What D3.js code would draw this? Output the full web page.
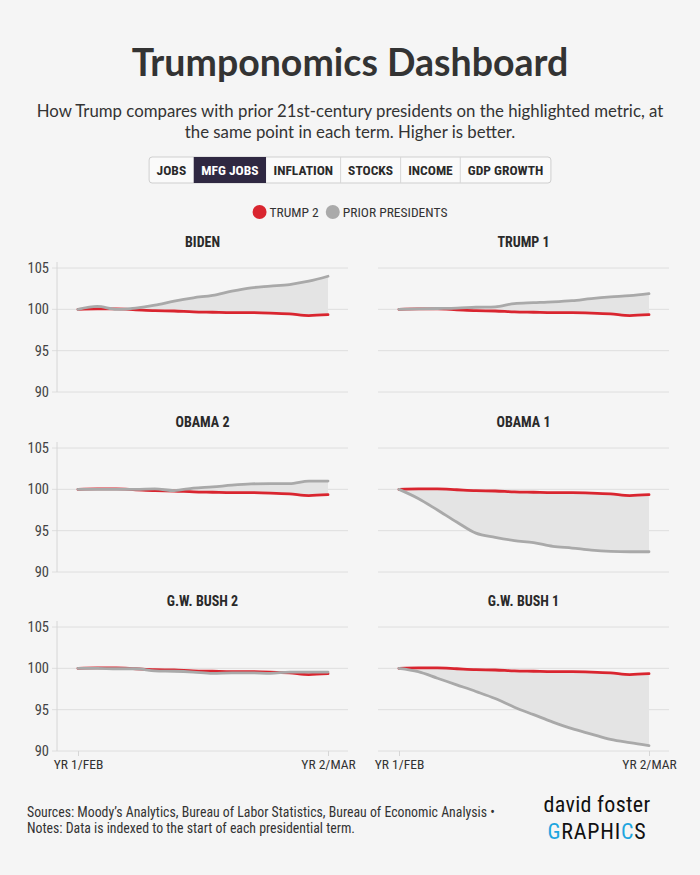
<!DOCTYPE html>
<html>
<head>
<meta charset="utf-8">
<script src="https://cdn.jsdelivr.net/npm/d3@7"></script>
<style>
  body { margin: 0; background: #f5f5f5; }
  svg { display: block; }
</style>
</head>
<body>
<div id="chart"></div>
<script>
// months from Feb of year 1 to Mar of year 2
const months = d3.range(14);
const xLabels = ["YR 1/FEB", "YR 2/MAR"];
const yTicks = [90, 95, 100, 105];
const tabs = ["JOBS", "MFG JOBS", "INFLATION", "STOCKS", "INCOME", "GDP GROWTH"];
const activeTab = "MFG JOBS";
const panelNames = ["BIDEN", "TRUMP 1", "OBAMA 2", "OBAMA 1", "G.W. BUSH 2", "G.W. BUSH 1"];

const trump2 = [100, 100.05, 100.05, 99.95, 99.85, 99.8, 99.7, 99.65, 99.6, 99.6, 99.55, 99.45, 99.25, 99.35];
const biden = [100, 100.35, 100.0, 100.15, 100.5, 101.0, 101.4, 101.7, 102.2, 102.6, 102.8, 103.0, 103.4, 104.0];
const trump1 = [100, 100.05, 100.1, 100.15, 100.25, 100.3, 100.7, 100.8, 100.9, 101.05, 101.3, 101.5, 101.65, 101.9];
const obama2 = [100, 100, 100, 100, 100.05, 99.85, 100.15, 100.3, 100.5, 100.65, 100.7, 100.7, 101.0, 101.0];
const obama1 = [100, 98.9, 97.5, 96.05, 94.7, 94.2, 93.8, 93.55, 93.1, 92.9, 92.65, 92.5, 92.45, 92.45];
const bush2 = [100, 100, 99.95, 99.95, 99.7, 99.65, 99.55, 99.4, 99.45, 99.45, 99.4, 99.55, 99.55, 99.55];
const bush1 = [100, 99.6, 98.8, 98.0, 97.2, 96.35, 95.3, 94.4, 93.5, 92.7, 92.05, 91.4, 91.0, 90.65];
const priorSeries = [biden, trump1, obama2, obama1, bush2, bush1];

const W = 700, H = 875;
const red = "#d9252f", grey = "#a9a9a9";
const cond = "\"Roboto Condensed\", \"Liberation Sans Narrow\", \"DejaVu Sans Condensed\", Roboto, sans-serif";

const svg = d3.select("#chart").append("svg")
    .attr("width", W)
    .attr("height", H);

svg.append("rect").attr("width", W).attr("height", H).attr("fill", "#f5f5f5");

// header
svg.append("text")
    .attr("x", W / 2).attr("y", 76)
    .attr("text-anchor", "middle")
    .attr("font-family", "Lato, 'Open Sans', sans-serif")
    .attr("font-weight", 700)
    .attr("font-size", 37.5)
    .attr("fill", "#333")
    .text("Trumponomics Dashboard");

const sub = ["How Trump compares with prior 21st-century presidents on the highlighted metric, at",
             "the same point in each term. Higher is better."];
svg.append("g").selectAll("text")
    .data(sub)
    .enter().append("text")
    .attr("x", W / 2)
    .attr("y", (d, i) => 117 + i * 21)
    .attr("text-anchor", "middle")
    .attr("font-family", "Lato, 'Open Sans', sans-serif")
    .attr("font-size", 16.8)
    .attr("fill", "#333")
    .text(d => d);

// tab buttons
const tabG = svg.append("g");
let tx = 0;
const tabPos = [];
tabs.forEach(t => {
  const tmp = tabG.append("text").attr("font-family", cond).attr("font-weight", 700).attr("font-size", 13.5).text(t);
  const w = tmp.node().getComputedTextLength() + 15;
  tmp.remove();
  tabPos.push({ t: t, x: tx, w: w });
  tx += w;
});
const tabStart = W / 2 - tx / 2;
tabG.attr("transform", "translate(" + tabStart + ",157)");
tabG.append("rect")
    .attr("x", 0).attr("y", 0).attr("width", tx).attr("height", 26)
    .attr("rx", 3).attr("fill", "#fafafa").attr("stroke", "#cfcfcf");
tabG.selectAll("g.tab")
    .data(tabPos)
    .enter().append("g")
    .attr("class", "tab")
    .each(function (d, i) {
      const g = d3.select(this);
      if (d.t === activeTab) {
        g.append("rect").attr("x", d.x).attr("y", 0).attr("width", d.w).attr("height", 26).attr("fill", "#2f2842");
      } else if (i > 0 && tabPos[i - 1].t !== activeTab) {
        g.append("line").attr("x1", d.x).attr("x2", d.x).attr("y1", 0).attr("y2", 26).attr("stroke", "#d6d6d6");
      }
      g.append("text")
        .attr("x", d.x + d.w / 2).attr("y", 18)
        .attr("text-anchor", "middle")
        .attr("font-family", cond).attr("font-weight", 700).attr("font-size", 13.5)
        .attr("fill", d.t === activeTab ? "#fff" : "#2a2a2a")
        .text(d.t);
    });

// legend
const legend = [{ name: "TRUMP 2", c: red }, { name: "PRIOR PRESIDENTS", c: "#aaa" }];
const lg = svg.append("g");
let lx = 0;
legend.forEach(l => {
  const g = lg.append("g").attr("transform", "translate(" + lx + ",0)");
  g.append("circle").attr("cx", 7).attr("cy", 0).attr("r", 7).attr("fill", l.c);
  const t = g.append("text").attr("x", 17).attr("y", 4.5)
      .attr("font-family", cond).attr("font-size", 13.5).attr("fill", "#333").text(l.name);
  lx += 17 + t.node().getComputedTextLength() + 7;
});
lg.attr("transform", "translate(" + (W / 2 - (lx - 7) / 2) + ",212)");

// panels
const colX = [57, 378];
const rowTop = [268, 448, 627];
const plotW = 291, plotH = 124;

const x = d3.scaleLinear().domain([0, 13]).range([21, plotW - 20]);
const y = d3.scaleLinear().domain([90, 105]).range([plotH, 0]);

panelNames.forEach((name, i) => {
  const col = i % 2, row = Math.floor(i / 2);
  const prior = priorSeries[i];
  const g = svg.append("g").attr("transform", "translate(" + colX[col] + "," + rowTop[row] + ")");

  g.append("text")
    .attr("x", plotW / 2).attr("y", -21)
    .attr("text-anchor", "middle")
    .attr("font-family", cond).attr("font-weight", 700).attr("font-size", 14)
    .attr("fill", "#2a2a2a")
    .text(name);

  // grid
  g.append("g").selectAll("line")
    .data(yTicks)
    .enter().append("line")
    .attr("x1", col === 0 ? -5 : 0).attr("x2", plotW)
    .attr("y1", d => y(d)).attr("y2", d => y(d))
    .attr("stroke", "#dedede").attr("stroke-width", 1);

  if (col === 0) {
    const yAxis = d3.axisLeft(y).tickValues(yTicks).tickSize(0).tickPadding(8);
    const ya = g.append("g").call(yAxis);
    ya.select(".domain").remove();
    ya.selectAll("text").attr("font-family", cond).attr("font-size", 14.5).attr("fill", "#444");
    g.append("line").attr("x1", 0).attr("x2", 0).attr("y1", -6).attr("y2", plotH)
      .attr("stroke", "#d6d6d6");
  }

  if (row === 2) {
    const xAxis = d3.axisBottom(x).tickValues([0, 13]).tickSize(5).tickPadding(3)
        .tickFormat((d, k) => xLabels[k]);
    const xa = g.append("g").attr("transform", "translate(0," + plotH + ")").call(xAxis);
    xa.select(".domain").remove();
    xa.selectAll("line").attr("stroke", "#d6d6d6");
    xa.selectAll("text").attr("font-family", cond).attr("font-size", 13.5).attr("fill", "#333");
  }

  const area = d3.area()
      .x(d => x(d))
      .y0(d => y(trump2[d]))
      .y1(d => y(prior[d]))
      .curve(d3.curveMonotoneX);
  g.append("path").datum(months).attr("d", area).attr("fill", "#e4e4e4");

  const line = d3.line().x(d => x(d)).curve(d3.curveMonotoneX);
  g.append("path").datum(months)
    .attr("d", line.y(d => y(trump2[d])))
    .attr("fill", "none").attr("stroke", red).attr("stroke-width", 2.8).attr("stroke-linecap", "round");
  g.append("path").datum(months)
    .attr("d", line.y(d => y(prior[d])))
    .attr("fill", "none").attr("stroke", grey).attr("stroke-width", 2.8).attr("stroke-linecap", "round");
});

// footer
const notes = ["Sources: Moody\u2019s Analytics, Bureau of Labor Statistics, Bureau of Economic Analysis \u2022",
               "Notes: Data is indexed to the start of each presidential term."];
svg.append("g").selectAll("text")
    .data(notes)
    .enter().append("text")
    .attr("x", 27).attr("y", (d, i) => 817 + i * 16)
    .attr("font-family", cond).attr("font-size", 13.8).attr("fill", "#333")
    .text(d => d);

const logo = svg.append("g").attr("transform", "translate(597,0)");
logo.append("text")
    .attr("x", 0).attr("y", 812)
    .attr("text-anchor", "middle")
    .attr("font-family", cond).attr("font-size", 22)
    .attr("letter-spacing", 0.3)
    .attr("fill", "#111")
    .text("david foster");
const gt = logo.append("text")
    .attr("x", 0).attr("y", 839)
    .attr("text-anchor", "middle")
    .attr("font-family", cond).attr("font-size", 22)
    .attr("letter-spacing", 0.8)
    .attr("fill", "#111");
gt.append("tspan").attr("fill", "#1ea5df").text("G");
gt.append("tspan").text("RAPHI");
gt.append("tspan").attr("fill", "#1ea5df").text("C");
gt.append("tspan").text("S");
</script>
</body>
</html>
